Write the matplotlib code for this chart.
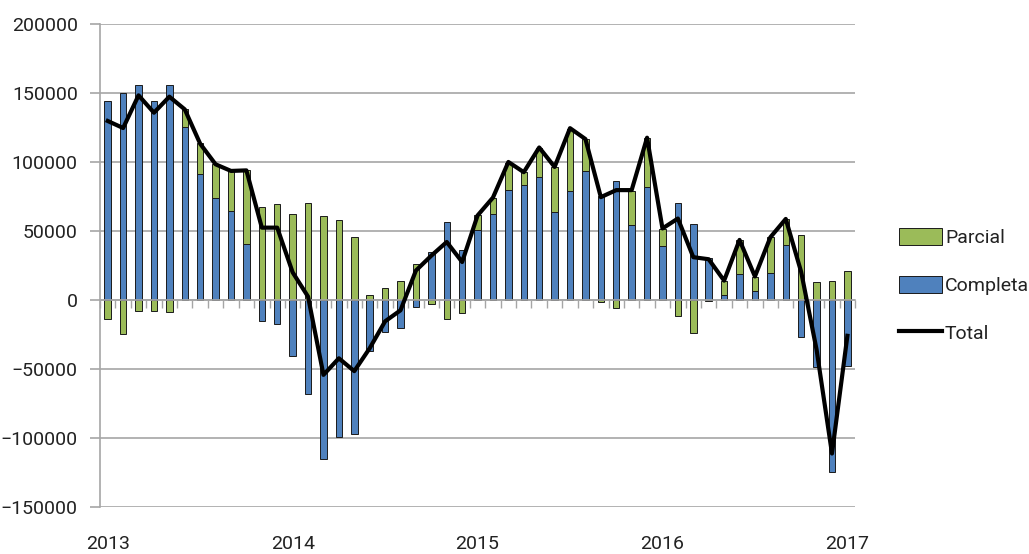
import numpy as np
import matplotlib
matplotlib.use("Agg")
import matplotlib.pyplot as plt
from matplotlib.patches import Patch
from matplotlib.lines import Line2D

plt.rcParams['font.family'] = ['Roboto', 'DejaVu Sans']

# Monthly data, Jan 2013 - Jan 2017
year_labels = ["2013", "2014", "2015", "2016", "2017"]
year_pos = [0, 12, 24, 36, 48]

completa = [143900, 150000, 156000, 143900, 156000, 125300, 91500, 73900, 64700, 40800,
            -15200, -17200, -40300, -68100, -115200, -99500, -97100, -37000, -23000, -20500,
            -4800, 35000, 56800, 36500, 50800, 62000, 79700, 83400, 88900, 63700,
            78600, 93800, 75200, 86100, 54600, 81700, 39000, 70600, 54800, 30300,
            3600, 18800, 6300, 19600, 40100, -27000, -48800, -124900, -47600]

parcial = [-14000, -25000, -7700, -7700, -8700, 12800, 22000, 24400, 28800, 53100,
           67600, 69600, 62000, 70500, 61100, 57600, 45300, 3500, 8300, 13800,
           26100, -2900, -14000, -9400, 10700, 12200, 19500, 9200, 21000, 32700,
           45500, 22800, -1200, -5800, 24000, 36000, 12700, -11400, -23700, -1000,
           10400, 24700, 10100, 25800, 18600, 47300, 12800, 14000, 21300]

total = [129700, 124600, 148300, 135700, 147300, 138100, 113200, 98300, 93500, 93900,
         52400, 52400, 20000, 2400, -54300, -42300, -51600, -35000, -15500, -7500,
         21300, 32100, 42000, 27500, 61200, 74200, 100000, 92600, 110500, 96400,
         124500, 116600, 74500, 79600, 79600, 117600, 51800, 59000, 31000, 29500,
         14000, 43500, 17000, 45400, 58700, 20300, -36000, -111300, -26000]

BLUE = "#4F81BD"
GREEN = "#9BBB59"
GRID = "#A6A6A6"

x = np.arange(len(completa))
comp = np.array(completa)
parc = np.array(parcial)
# green stacks on top of blue only when both share the same sign
green_bottom = np.where(np.sign(comp) == np.sign(parc), comp, 0)

fig = plt.figure(figsize=(10.29, 5.54), dpi=100)
ax = fig.add_axes([0.0972, 0.085, 0.7338, 0.8717])

ax.bar(x, comp, width=0.42, color=BLUE, edgecolor="#1a1a1a", linewidth=0.7, zorder=2)
ax.bar(x, parc, width=0.42, bottom=green_bottom, color=GREEN, edgecolor="#1a1a1a",
       linewidth=0.7, zorder=2)
ax.plot(x, total, color="black", linewidth=3.0, zorder=3)

ax.set_xlim(-0.5, 48.5)
ax.set_ylim(-150000, 200000)
ax.set_yticks(np.arange(-150000, 200001, 50000))
ax.yaxis.grid(True, color=GRID, linewidth=1.2, zorder=0)
ax.tick_params(axis="y", length=7, color=GRID, width=1.2, labelsize=14, pad=9,
               labelcolor="#222222")

for s in ["top", "right"]:
    ax.spines[s].set_visible(False)
ax.spines["left"].set_color(GRID)
ax.spines["left"].set_linewidth(1.2)

# category axis drawn on the zero line with month tick marks
ax.spines["bottom"].set_position(("data", 0))
ax.spines["bottom"].set_color(GRID)
ax.spines["bottom"].set_linewidth(1.2)
ax.set_xticks(np.arange(-0.5, 48.6, 1))
ax.tick_params(axis="x", length=6, color=GRID, width=1, labelbottom=False, direction="out")

sec = ax.secondary_xaxis(location=0)
sec.set_xticks(year_pos)
sec.set_xticklabels(year_labels)
sec.tick_params(length=0, labelsize=14, pad=20, labelcolor="#222222")
sec.spines["bottom"].set_visible(False)

handles = [Patch(facecolor=GREEN, edgecolor="#1a1a1a", linewidth=0.7),
           Patch(facecolor=BLUE, edgecolor="#1a1a1a", linewidth=0.7),
           Line2D([0], [0], color="black", linewidth=3.0)]
fig.legend(handles, ["Parcial", "Completa", "Total"], loc="center left",
           bbox_to_anchor=(0.857, 0.485), frameon=False, fontsize=14,
           handlelength=2.2, handleheight=1.0, handletextpad=0.15, labelspacing=1.45,
           labelcolor="#222222")

fig.savefig("out.png", dpi=100)
